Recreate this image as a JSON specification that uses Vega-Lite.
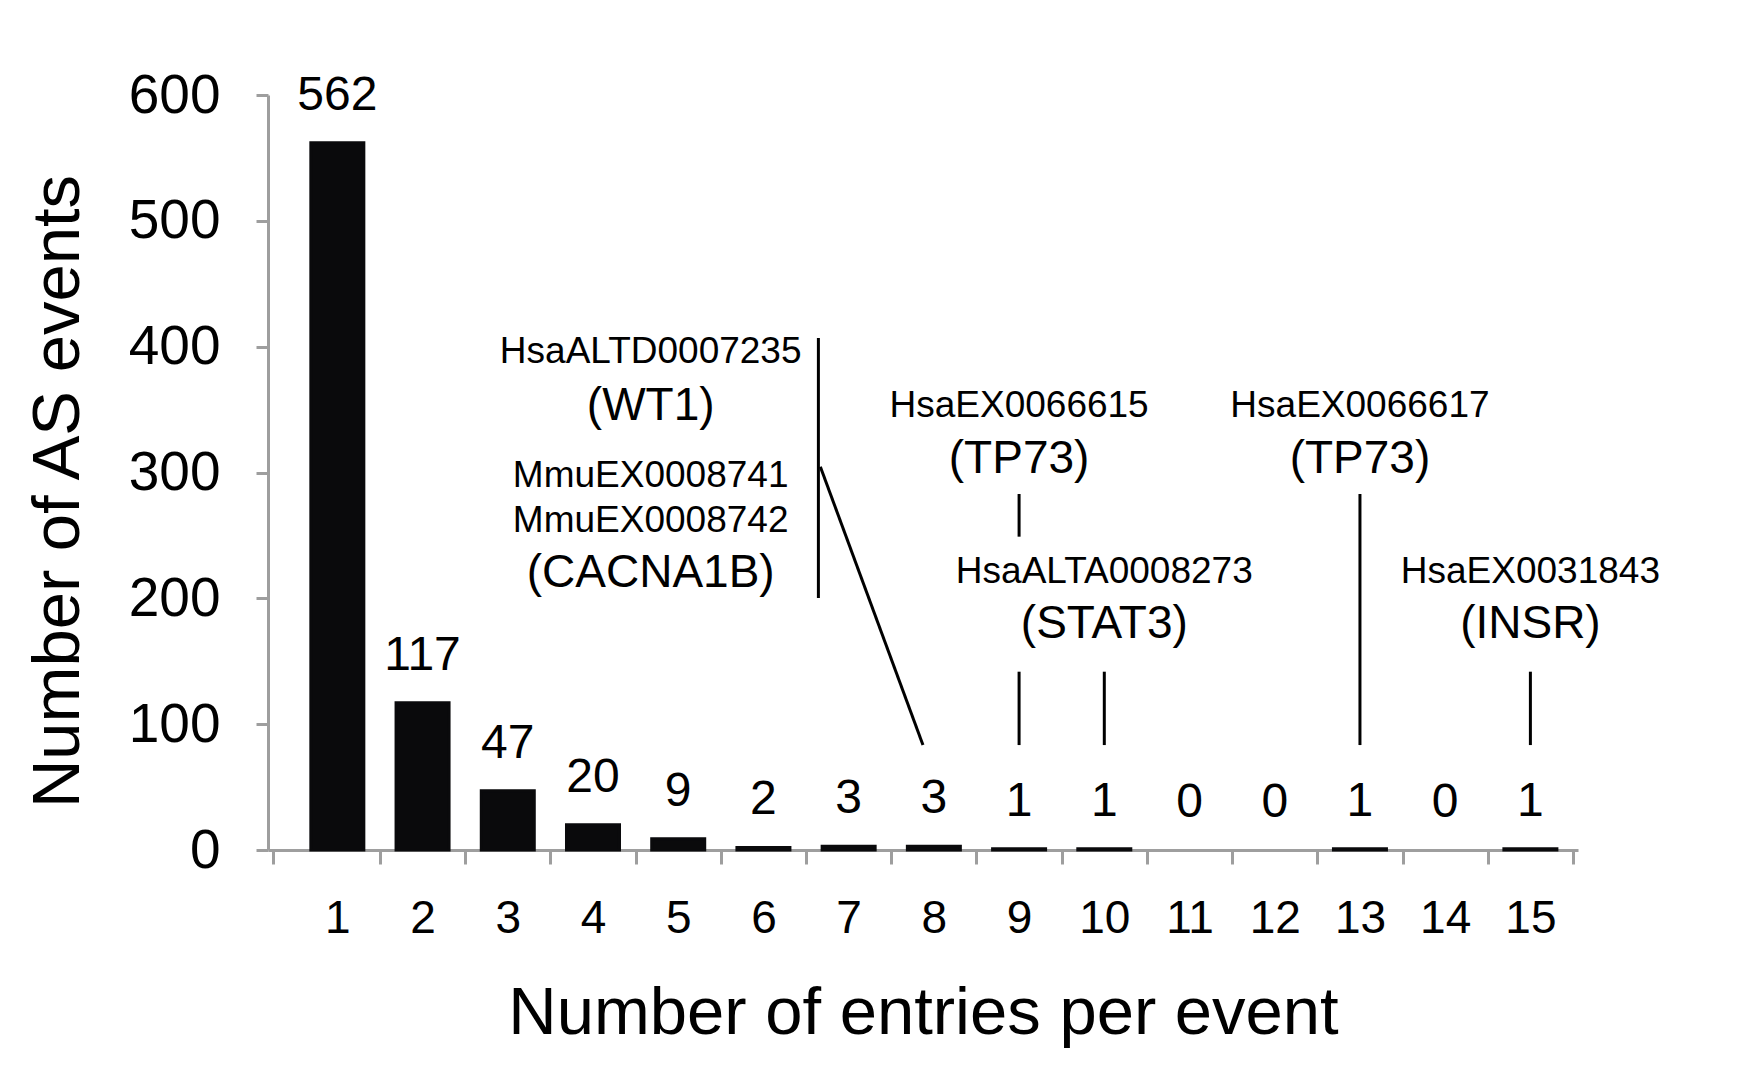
{
  "$schema": "https://vega.github.io/schema/vega-lite/v6.json",
  "autosize": "none",
  "padding": {"left": 268, "top": 95, "right": 186, "bottom": 225},
  "width": 1310,
  "height": 755,
  "background": "white",
  "config": {"view": {"stroke": null}, "font": "Liberation Sans"},
  "datasets": {
    "bars": [
      {"n": 1, "v": 562}, {"n": 2, "v": 117}, {"n": 3, "v": 47}, {"n": 4, "v": 20},
      {"n": 5, "v": 9}, {"n": 6, "v": 2}, {"n": 7, "v": 3}, {"n": 8, "v": 3},
      {"n": 9, "v": 1}, {"n": 10, "v": 1}, {"n": 11, "v": 0}, {"n": 12, "v": 0},
      {"n": 13, "v": 1}, {"n": 14, "v": 0}, {"n": 15, "v": 1}
    ],
    "notes": [
      {"n": 4.677, "v": 387.0, "label": "HsaALTD0007235", "kind": "id"},
      {"n": 4.677, "v": 288.7, "label": "MmuEX0008741", "kind": "id"},
      {"n": 4.677, "v": 253.0, "label": "MmuEX0008742", "kind": "id"},
      {"n": 9, "v": 344.4, "label": "HsaEX0066615", "kind": "id"},
      {"n": 10, "v": 212.0, "label": "HsaALTA0008273", "kind": "id"},
      {"n": 13, "v": 344.4, "label": "HsaEX0066617", "kind": "id"},
      {"n": 15, "v": 212.0, "label": "HsaEX0031843", "kind": "id"},
      {"n": 4.677, "v": 341.7, "label": "(WT1)", "kind": "gene"},
      {"n": 4.677, "v": 209.3, "label": "(CACNA1B)", "kind": "gene"},
      {"n": 9, "v": 299.4, "label": "(TP73)", "kind": "gene"},
      {"n": 10, "v": 168.2, "label": "(STAT3)", "kind": "gene"},
      {"n": 13, "v": 299.4, "label": "(TP73)", "kind": "gene"},
      {"n": 15, "v": 168.2, "label": "(INSR)", "kind": "gene"}
    ],
    "lines": [
      {"n": 6.645, "n2": 6.645, "v": 406.9, "v2": 200.3},
      {"n": 6.668, "n2": 7.872, "v": 304.6, "v2": 83.4},
      {"n": 9, "n2": 9, "v": 282.9, "v2": 249.0},
      {"n": 9, "n2": 9, "v": 141.7, "v2": 83.4},
      {"n": 10, "n2": 10, "v": 141.7, "v2": 83.4},
      {"n": 13, "n2": 13, "v": 282.9, "v2": 83.4},
      {"n": 15, "n2": 15, "v": 141.7, "v2": 83.4}
    ]
  },
  "layer": [
    {
      "data": {"name": "bars"},
      "mark": {"type": "bar", "size": 53, "color": "#0a0a0c", "stroke": "#0a0a0c"},
      "encoding": {
        "x": {
          "field": "n", "type": "quantitative",
          "scale": {"domain": [0.245, 15.5], "nice": false, "zero": false},
          "axis": {
            "values": [0.245, 1.5, 2.5, 3.5, 4.5, 5.5, 6.5, 7.5, 8.5, 9.5, 10.5, 11.5, 12.5, 13.5, 14.5, 15.5, 1, 2, 3, 4, 5, 6, 7, 8, 9, 10, 11, 12, 13, 14, 15],
            "labelExpr": "datum.value % 1 == 0 ? '' + datum.value : ''",
            "tickOpacity": {"condition": {"test": "datum.value % 1 == 0", "value": 0}, "value": 1},
            "tickSize": 14, "tickWidth": 3, "tickColor": "#9e9e9e",
            "domainColor": "#9e9e9e", "domainWidth": 3,
            "labelFontSize": 46, "labelFont": "Liberation Sans", "labelColor": "#000000",
            "labelBaseline": "alphabetic", "labelPadding": 68, "labelOverlap": false, "labelFlush": false,
            "grid": false,
            "title": "Number of entries per event",
            "titleFontSize": 67, "titleFontWeight": "normal", "titleFont": "Liberation Sans", "titleColor": "#000000",
            "titleBaseline": "alphabetic", "titleY": 183, "titleX": 655, "titleAlign": "center"
          }
        },
        "y": {
          "field": "v", "type": "quantitative",
          "scale": {"domain": [0, 600], "nice": false},
          "axis": {
            "values": [0, 100, 200, 300, 400, 500, 600],
            "tickSize": 12, "tickWidth": 3, "tickColor": "#9e9e9e",
            "domainColor": "#9e9e9e", "domainWidth": 3,
            "labelFontSize": 55, "labelFont": "Liberation Sans", "labelColor": "#000000",
            "labelPadding": 36, "grid": false,
            "title": "Number of AS events",
            "titleFontSize": 67, "titleFontWeight": "normal", "titleFont": "Liberation Sans", "titleColor": "#000000",
            "titleAngle": -90, "titleBaseline": "alphabetic", "titleAlign": "center",
            "titleX": -190, "titleY": 396
          }
        },
        "strokeWidth": {"condition": {"test": "datum.v > 0", "value": 3}, "value": 0}
      }
    },
    {
      "data": {"name": "bars"},
      "mark": {"type": "text", "baseline": "alphabetic", "align": "center", "dy": -33, "fontSize": 48, "font": "Liberation Sans", "color": "#000000"},
      "encoding": {
        "x": {"field": "n", "type": "quantitative"},
        "y": {"field": "v", "type": "quantitative"},
        "text": {"field": "v", "type": "quantitative"}
      }
    },
    {
      "data": {"name": "lines"},
      "mark": {"type": "rule", "color": "#000000", "strokeWidth": 3},
      "encoding": {
        "x": {"field": "n", "type": "quantitative"},
        "x2": {"field": "n2"},
        "y": {"field": "v", "type": "quantitative"},
        "y2": {"field": "v2"}
      }
    },
    {
      "data": {"name": "notes"},
      "transform": [{"filter": "datum.kind == 'id'"}],
      "mark": {"type": "text", "baseline": "alphabetic", "align": "center", "fontSize": 37, "font": "Liberation Sans", "color": "#000000"},
      "encoding": {
        "x": {"field": "n", "type": "quantitative"},
        "y": {"field": "v", "type": "quantitative"},
        "text": {"field": "label", "type": "nominal"}
      }
    },
    {
      "data": {"name": "notes"},
      "transform": [{"filter": "datum.kind == 'gene'"}],
      "mark": {"type": "text", "baseline": "alphabetic", "align": "center", "fontSize": 46, "font": "Liberation Sans", "color": "#000000"},
      "encoding": {
        "x": {"field": "n", "type": "quantitative"},
        "y": {"field": "v", "type": "quantitative"},
        "text": {"field": "label", "type": "nominal"}
      }
    }
  ]
}
